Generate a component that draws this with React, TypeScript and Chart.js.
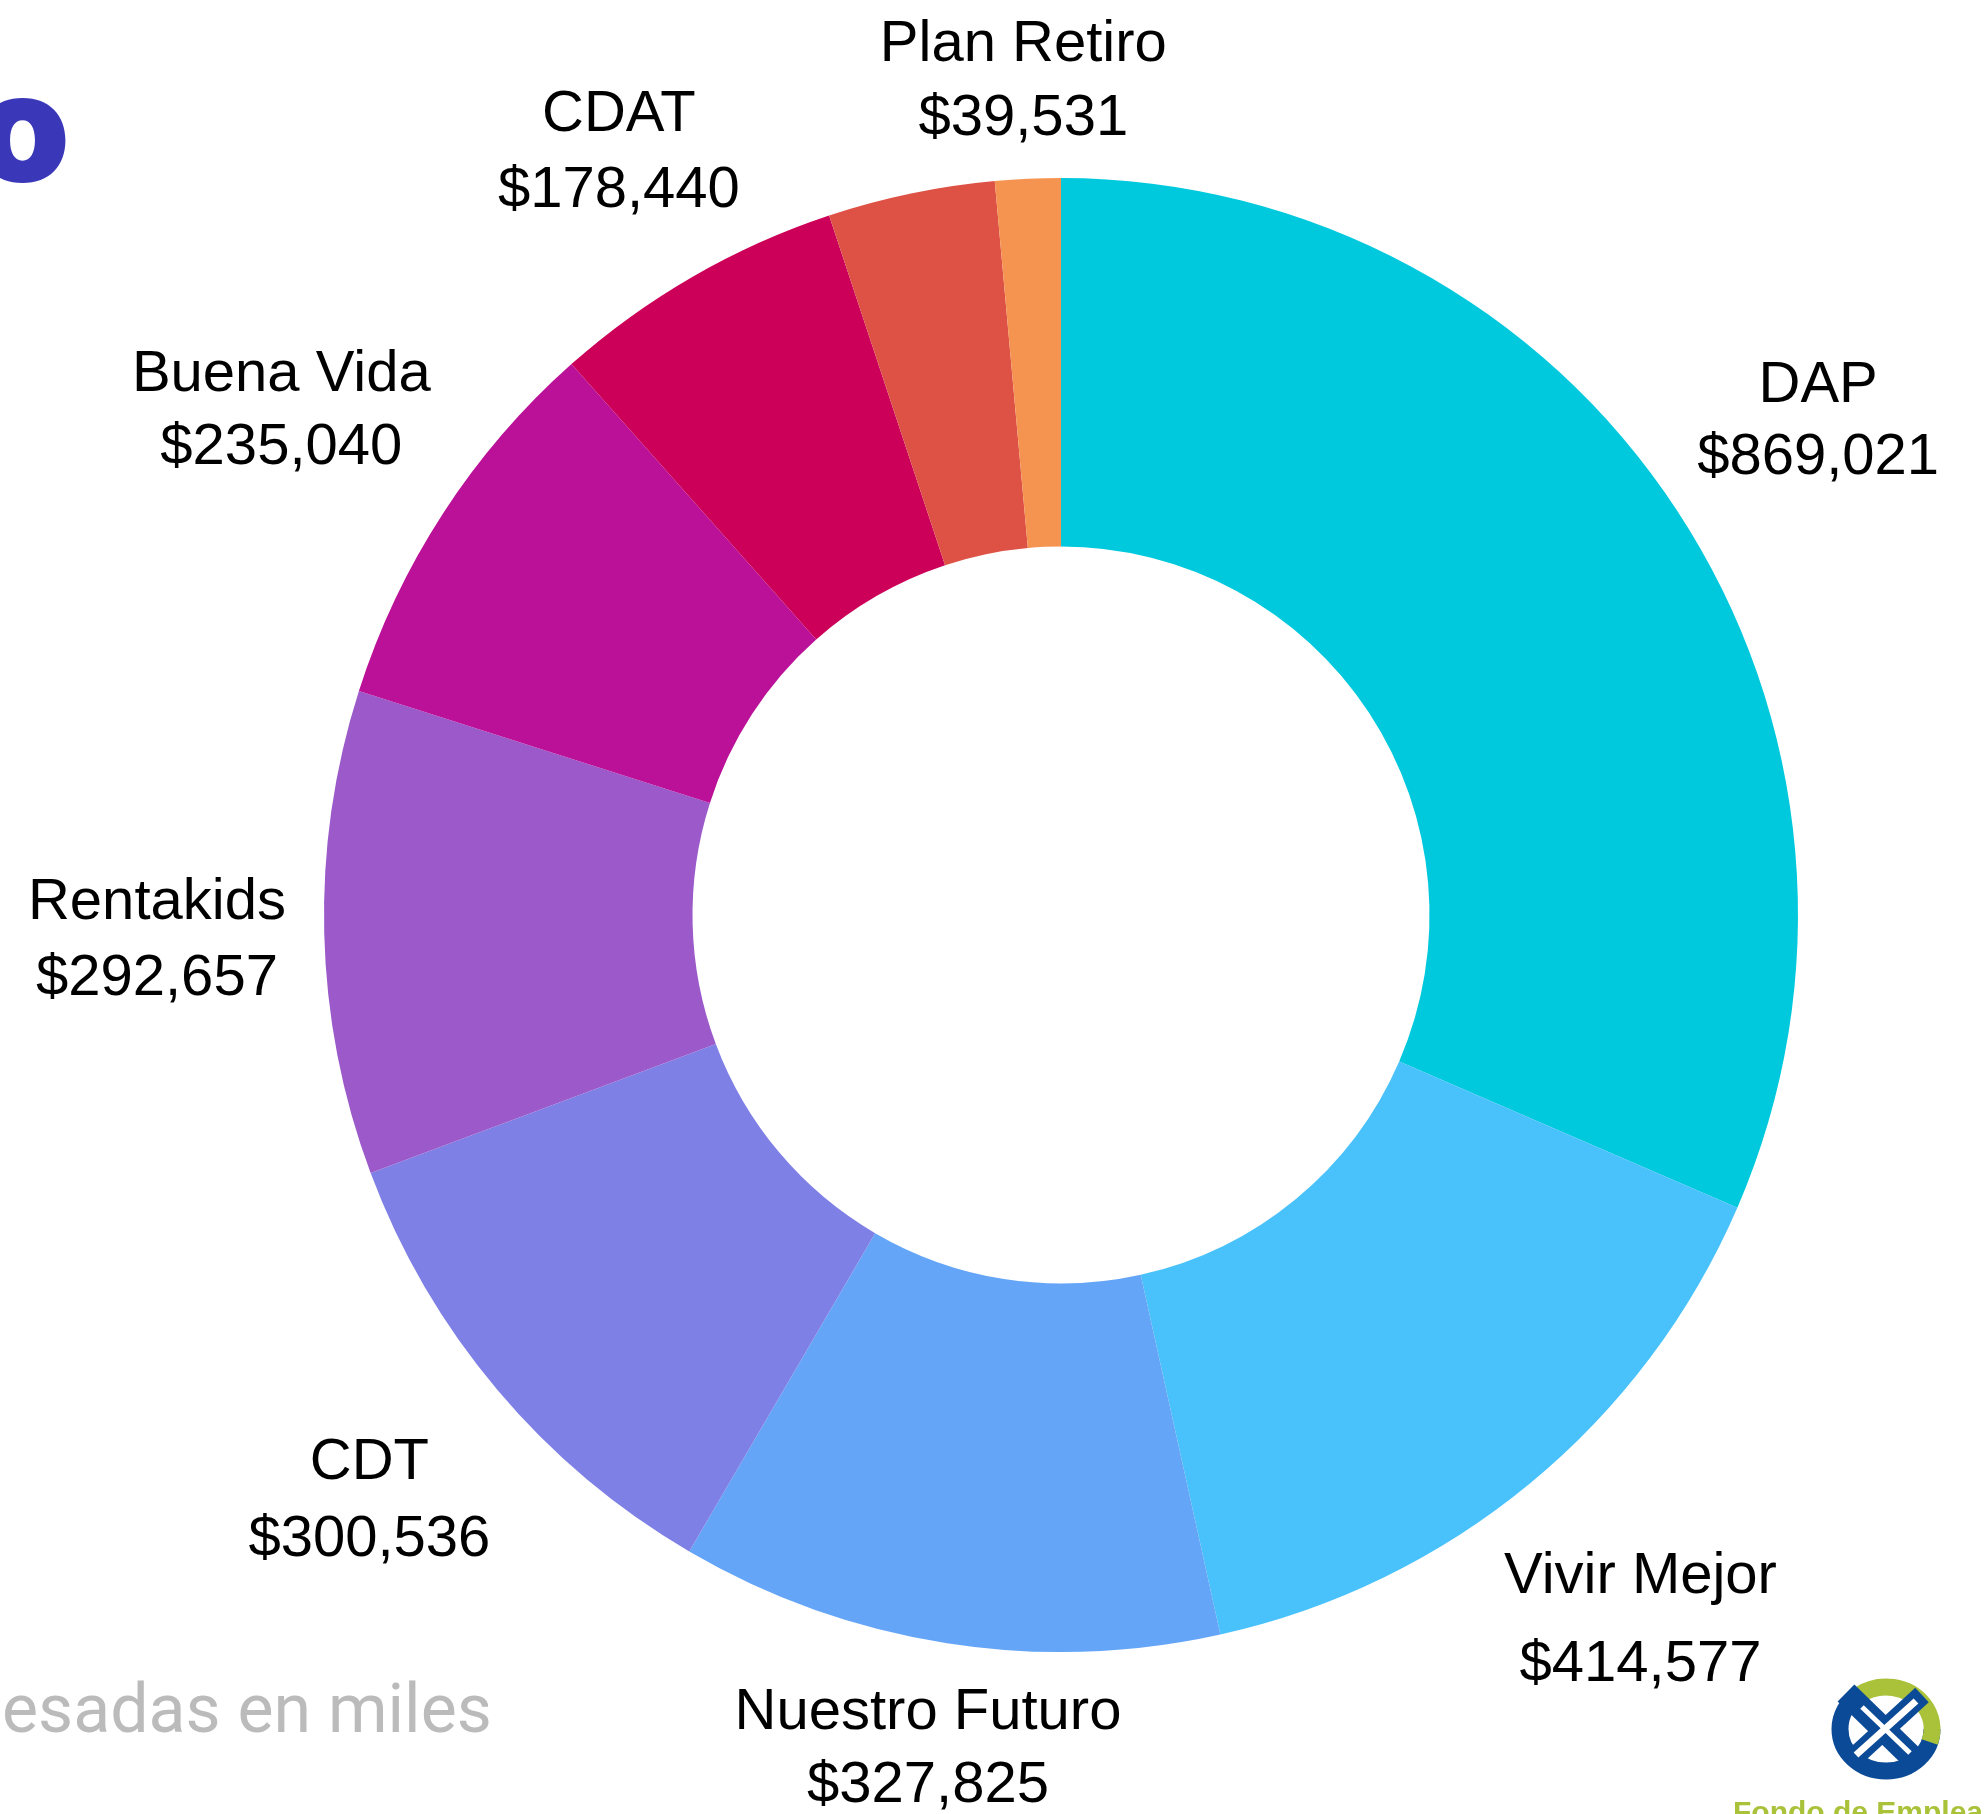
import React, { useEffect, useRef } from "react";
import { Chart, registerables } from "chart.js";

Chart.register(...registerables);

// ---- data ----
const categories = [
  "DAP",
  "Vivir Mejor",
  "Nuestro Futuro",
  "CDT",
  "Rentakids",
  "Buena Vida",
  "CDAT",
  "",
  "Plan Retiro",
];
const values = [869021, 414577, 327825, 300536, 292657, 235040, 178440, 101000, 39531];
const colors = [
  "#00C9DD",
  "#49C2FC",
  "#64A5F8",
  "#7F80E6",
  "#9B59C9",
  "#BB1199",
  "#CC0058",
  "#DE5246",
  "#F59451",
];
const lineSpacing = [72, 88, 73, 77, 76, 73, 76, 74, 74];
const partialTitle = "o";
const footnote = "esadas en miles";
const brandText = "Fondo de Empleados";

const W = 1984;
const H = 1814;
const LABEL_FONT_SIZE = 58;

function fmt(v: number) {
  return "$" + v.toLocaleString("en-US");
}

const labelPlugin = {
  id: "outerLabels",
  afterDatasetsDraw(chart: any) {
    const ctx = chart.ctx as CanvasRenderingContext2D;
    const meta = chart.getDatasetMeta(0);
    ctx.save();
    ctx.font = `${LABEL_FONT_SIZE}px "Liberation Sans", Arial, sans-serif`;
    ctx.fillStyle = "#000000";
    ctx.textAlign = "center";
    ctx.textBaseline = "alphabetic";
    const capH = ctx.measureText("H").actualBoundingBoxAscent;
    meta.data.forEach((arc: any, i: number) => {
      const name = categories[i];
      if (!name) return;
      const p = arc.getProps(["x", "y", "startAngle", "endAngle", "outerRadius"], true);
      const mid = (p.startAngle + p.endAngle) / 2;
      const ux = Math.cos(mid);
      const uy = Math.sin(mid);
      const l1 = name;
      const l2 = fmt(values[i]);
      const w = Math.max(ctx.measureText(l1).width, ctx.measureText(l2).width);
      const hw = w / 2;
      const sp = lineSpacing[i];
      const hh = (capH + sp) / 2;
      const r = p.outerRadius + 37 + hw * Math.abs(ux) + hh * Math.abs(uy);
      const cx = p.x + ux * r;
      const cy = p.y + uy * r;
      let b1 = cy - hh + capH;
      // keep the label inside the drawing area
      const maxB2 = H - 12;
      if (b1 + sp > maxB2) b1 = maxB2 - sp;
      ctx.fillText(l1, cx, b1);
      ctx.fillText(l2, cx, b1 + sp);
    });
    ctx.restore();
  },
};

const decorPlugin = {
  id: "decor",
  afterDraw(chart: any) {
    const ctx = chart.ctx as CanvasRenderingContext2D;
    ctx.save();
    // partial title
    ctx.fillStyle = "#3A37B8";
    ctx.font = `900 152px Inter, "Open Sans", sans-serif`;
    ctx.textAlign = "right";
    ctx.textBaseline = "alphabetic";
    ctx.fillText(partialTitle, 70, 182);
    // footnote
    ctx.fillStyle = "#BBBBBB";
    ctx.font = `68px Roboto, sans-serif`;
    ctx.textAlign = "left";
    ctx.fillText(footnote, 2, 1732);
    // logo (approximation)
    const lx = 1886;
    const ly = 1729;
    const blue = "#0B4A97";
    const green = "#A9C23A";
    ctx.lineCap = "butt";
    ctx.lineWidth = 17;
    ctx.strokeStyle = blue;
    ctx.beginPath();
    ctx.ellipse(lx, ly, 46, 42, 0, 0, Math.PI * 1.3);
    ctx.stroke();
    ctx.strokeStyle = green;
    ctx.beginPath();
    ctx.ellipse(lx, ly, 46, 42, 0, Math.PI * 1.3, Math.PI * 2.1);
    ctx.stroke();
    // blue diagonal band
    ctx.strokeStyle = blue;
    ctx.lineWidth = 24;
    ctx.beginPath();
    ctx.moveTo(lx - 40, ly - 36);
    ctx.lineTo(lx + 34, ly + 36);
    ctx.stroke();
    ctx.lineWidth = 20;
    ctx.beginPath();
    ctx.moveTo(lx - 38, ly + 34);
    ctx.lineTo(lx + 36, ly - 34);
    ctx.stroke();
    // white X gap
    ctx.strokeStyle = "#FFFFFF";
    ctx.lineWidth = 7;
    ctx.beginPath();
    ctx.moveTo(lx - 30, ly + 26);
    ctx.lineTo(lx + 30, ly - 28);
    ctx.stroke();
    ctx.lineWidth = 5;
    ctx.beginPath();
    ctx.moveTo(lx - 24, ly - 22);
    ctx.lineTo(lx + 24, ly + 24);
    ctx.stroke();
    // brand text
    ctx.fillStyle = green;
    ctx.font = `bold 30px "Liberation Sans", Arial, sans-serif`;
    ctx.textAlign = "left";
    ctx.fillText(brandText, 1733, 1822);
    ctx.restore();
  },
};

export default function App() {
  const ref = useRef<HTMLCanvasElement | null>(null);
  useEffect(() => {
    if (!ref.current) return;
    const chart = new Chart(ref.current, {
      type: "doughnut",
      data: {
        labels: categories,
        datasets: [
          {
            data: values,
            backgroundColor: colors,
            borderWidth: 0,
            hoverOffset: 0,
          },
        ],
      },
      options: {
        responsive: false,
        animation: false,
        cutout: "50%",
        layout: { padding: { left: 324, right: 186, top: 178, bottom: 162 } },
        plugins: {
          legend: { display: false },
          tooltip: { enabled: false },
        },
      },
      plugins: [labelPlugin, decorPlugin],
    });
    return () => chart.destroy();
  }, []);
  return (
    <div style={{ position: "absolute", left: 0, top: 0, width: W, height: H, background: "#fff" }}>
      <canvas ref={ref} width={W} height={H} style={{ display: "block", width: W, height: H }} />
    </div>
  );
}
